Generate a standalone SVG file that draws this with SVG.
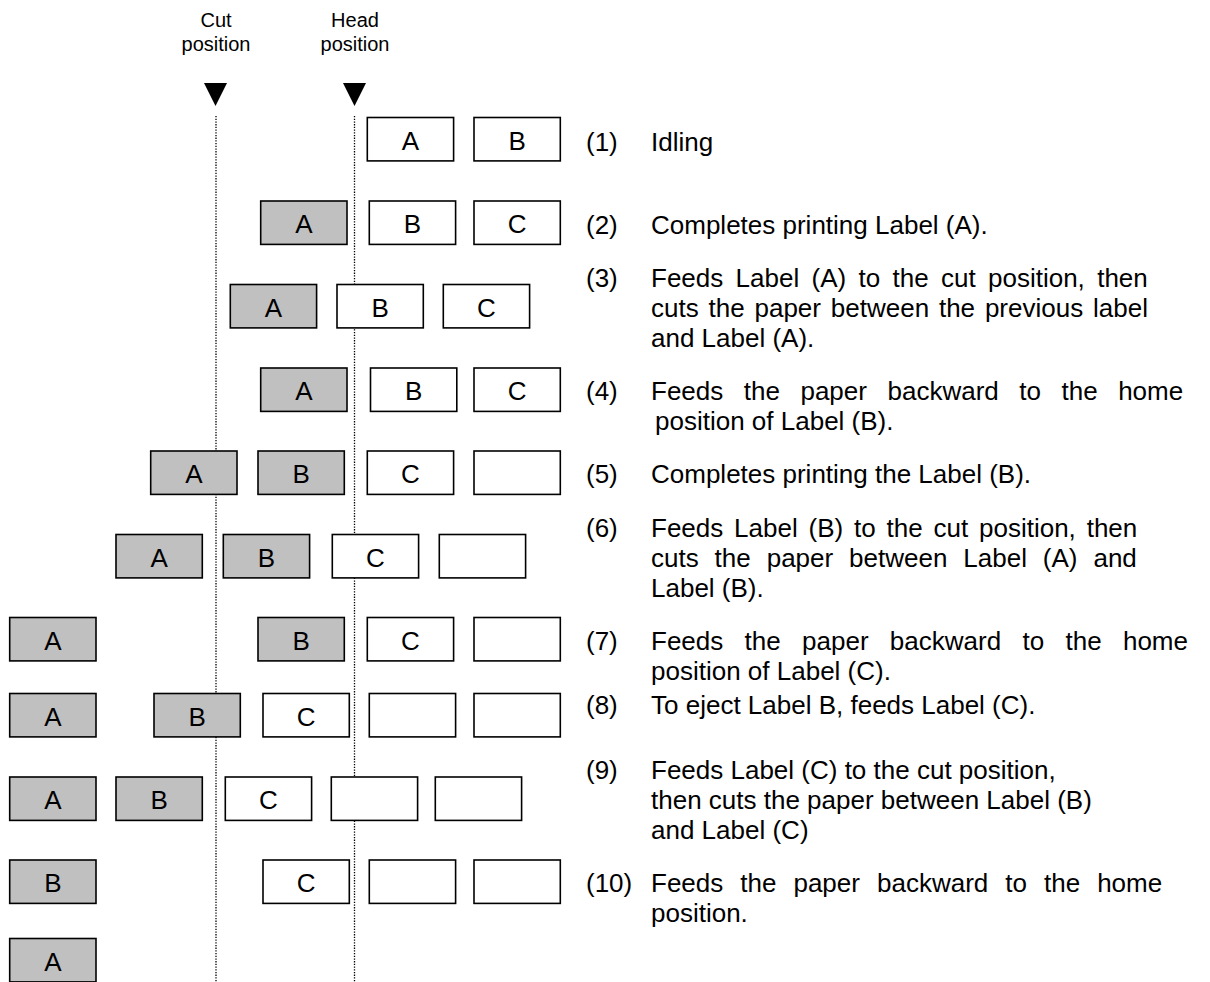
<svg xmlns="http://www.w3.org/2000/svg" width="1210" height="982" viewBox="0 0 1210 982">
<style>
.t{font-family:"Liberation Sans",Arial,sans-serif;font-size:26px;fill:#000}
.h{font-family:"Liberation Sans",Arial,sans-serif;font-size:20px;fill:#000;text-anchor:middle}
.c{text-anchor:middle}
.w{fill:#fff;stroke:#000;stroke-width:1.6}
.g{fill:#c0c0c0;stroke:#000;stroke-width:1.6}
.dl{stroke:#000;stroke-width:1.3;stroke-dasharray:1.3 1.4;fill:none}
</style>
<defs>
<rect id="bw" class="w" width="86.3" height="43.4"/>
<rect id="bg" class="g" width="86.3" height="43.4"/>
</defs>
<rect width="1210" height="982" fill="#fff"/>
<g id="headers">
<text class="h" x="216" y="27">Cut</text>
<text class="h" x="216" y="51">position</text>
<text class="h" x="355" y="27">Head</text>
<text class="h" x="355" y="51">position</text>
<polygon points="204,83 227,83 215.5,106" fill="#000"/>
<polygon points="343,83 366,83 354.5,106" fill="#000"/>
</g>
<g id="connectors">
<line class="dl" x1="216" y1="116" x2="216" y2="982"/>
<line class="dl" x1="354.5" y1="116" x2="354.5" y2="982"/>
</g>
<g id="row1">
<use href="#bw" x="367.3" y="117.5"/><text class="t c" x="410.5" y="149.5">A</text>
<use href="#bw" x="474" y="117.5"/><text class="t c" x="517.2" y="149.5">B</text>
<text class="t" x="586" y="150.5">(1)</text><text class="t" x="651" y="150.5">Idling</text>
</g>
<g id="row2">
<use href="#bg" x="260.7" y="201"/><text class="t c" x="303.8" y="233">A</text>
<use href="#bw" x="369.3" y="201"/><text class="t c" x="412.5" y="233">B</text>
<use href="#bw" x="474" y="201"/><text class="t c" x="517.2" y="233">C</text>
<text class="t" x="586" y="233.5">(2)</text><text class="t" x="651" y="233.5">Completes printing Label (A).</text>
</g>
<g id="row3">
<use href="#bg" x="230.3" y="284.5"/><text class="t c" x="273.5" y="316.5">A</text>
<use href="#bw" x="337" y="284.5"/><text class="t c" x="380.2" y="316.5">B</text>
<use href="#bw" x="443.3" y="284.5"/><text class="t c" x="486.5" y="316.5">C</text>
<text class="t" x="586" y="286.7">(3)</text>
<text class="t" x="651" y="286.7" word-spacing="5.1">Feeds Label (A) to the cut position, then</text>
<text class="t" x="651" y="316.7" word-spacing="2.6">cuts the paper between the previous label</text>
<text class="t" x="651" y="346.7">and Label (A).</text>
</g>
<g id="row4">
<use href="#bg" x="260.7" y="368"/><text class="t c" x="303.8" y="400">A</text>
<use href="#bw" x="370.5" y="368"/><text class="t c" x="413.7" y="400">B</text>
<use href="#bw" x="474" y="368"/><text class="t c" x="517.2" y="400">C</text>
<text class="t" x="586" y="400">(4)</text>
<text class="t" x="651" y="400" word-spacing="13.3">Feeds the paper backward to the home</text>
<text class="t" x="655" y="430">position of Label (B).</text>
</g>
<g id="row5">
<use href="#bg" x="150.7" y="451"/><text class="t c" x="193.8" y="483">A</text>
<use href="#bg" x="258" y="451"/><text class="t c" x="301.2" y="483">B</text>
<use href="#bw" x="367.3" y="451"/><text class="t c" x="410.5" y="483">C</text>
<use href="#bw" x="474" y="451"/>
<text class="t" x="586" y="483.3">(5)</text><text class="t" x="651" y="483.3">Completes printing the Label (B).</text>
</g>
<g id="row6">
<use href="#bg" x="116" y="534.5"/><text class="t c" x="159.2" y="566.5">A</text>
<use href="#bg" x="223.3" y="534.5"/><text class="t c" x="266.5" y="566.5">B</text>
<use href="#bw" x="332.3" y="534.5"/><text class="t c" x="375.5" y="566.5">C</text>
<use href="#bw" x="439.3" y="534.5"/>
<text class="t" x="586" y="536.6">(6)</text>
<text class="t" x="651" y="536.6" word-spacing="3.6">Feeds Label (B) to the cut position, then</text>
<text class="t" x="651" y="566.6" word-spacing="8.7">cuts the paper between Label (A) and</text>
<text class="t" x="651" y="596.6">Label (B).</text>
</g>
<g id="row7">
<use href="#bg" x="9.7" y="617.5"/><text class="t c" x="52.9" y="649.5">A</text>
<use href="#bg" x="258" y="617.5"/><text class="t c" x="301.2" y="649.5">B</text>
<use href="#bw" x="367.3" y="617.5"/><text class="t c" x="410.5" y="649.5">C</text>
<use href="#bw" x="474" y="617.5"/>
<text class="t" x="586" y="649.8">(7)</text>
<text class="t" x="651" y="649.8" word-spacing="14.1">Feeds the paper backward to the home</text>
<text class="t" x="651" y="679.8">position of Label (C).</text>
</g>
<g id="row8">
<use href="#bg" x="9.7" y="693.5"/><text class="t c" x="52.9" y="725.5">A</text>
<use href="#bg" x="154" y="693.5"/><text class="t c" x="197.2" y="725.5">B</text>
<use href="#bw" x="263" y="693.5"/><text class="t c" x="306.2" y="725.5">C</text>
<use href="#bw" x="369.3" y="693.5"/>
<use href="#bw" x="474" y="693.5"/>
<text class="t" x="586" y="714">(8)</text><text class="t" x="651" y="714">To eject Label B, feeds Label (C).</text>
</g>
<g id="row9">
<use href="#bg" x="9.7" y="777"/><text class="t c" x="52.9" y="809">A</text>
<use href="#bg" x="116" y="777"/><text class="t c" x="159.2" y="809">B</text>
<use href="#bw" x="225.3" y="777"/><text class="t c" x="268.5" y="809">C</text>
<use href="#bw" x="331.3" y="777"/>
<use href="#bw" x="435.3" y="777"/>
<text class="t" x="586" y="779">(9)</text>
<text class="t" x="651" y="779">Feeds Label (C) to the cut position,</text>
<text class="t" x="651" y="809">then cuts the paper between Label (B)</text>
<text class="t" x="651" y="839">and Label (C)</text>
</g>
<g id="row10">
<use href="#bg" x="9.7" y="860"/><text class="t c" x="52.9" y="892">B</text>
<use href="#bw" x="263" y="860"/><text class="t c" x="306.2" y="892">C</text>
<use href="#bw" x="369.3" y="860"/>
<use href="#bw" x="474" y="860"/>
<text class="t" x="586" y="892">(10)</text>
<text class="t" x="651" y="892" word-spacing="9.8">Feeds the paper backward to the home</text>
<text class="t" x="651" y="922">position.</text>
</g>
<g id="row11">
<use href="#bg" x="9.7" y="938.5"/><text class="t c" x="52.9" y="970.5">A</text>
</g>
</svg>
